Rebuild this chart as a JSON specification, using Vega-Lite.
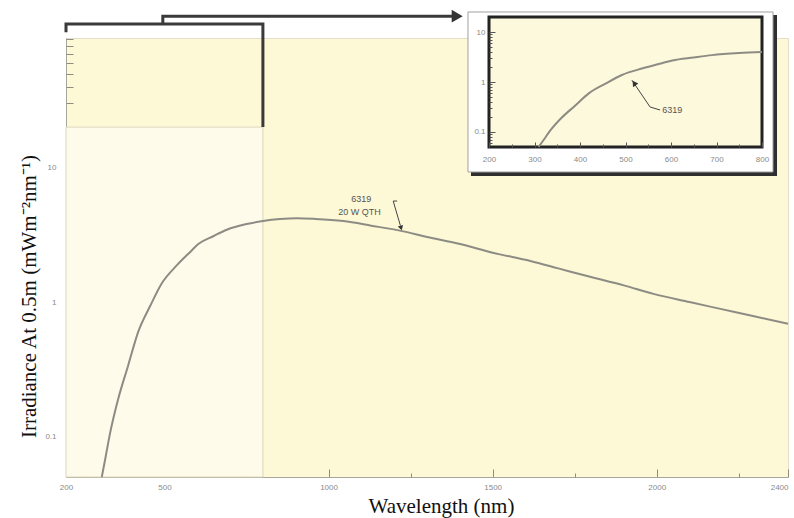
{
  "$schema": "https://vega.github.io/schema/vega-lite/v6.json",
  "width": 722,
  "height": 439,
  "autosize": "none",
  "padding": {"left": 66, "top": 38, "right": 6, "bottom": 41},
  "background": "#ffffff",
  "view": {"fill": "#fdf8d5", "stroke": "#e2dec9", "strokeWidth": 1},
  "config": {"axis": {"grid": false, "labelFont": "Liberation Sans", "titleFont": "Liberation Serif"}},
  "datasets": {
    "lamp": [
      {"nm": 309, "irr": 0.05},
      {"nm": 320, "irr": 0.069},
      {"nm": 334, "irr": 0.105},
      {"nm": 359, "irr": 0.19},
      {"nm": 389, "irr": 0.335},
      {"nm": 420, "irr": 0.6},
      {"nm": 456, "irr": 0.93},
      {"nm": 492, "irr": 1.38},
      {"nm": 538, "irr": 1.88},
      {"nm": 580, "irr": 2.38},
      {"nm": 603, "irr": 2.7},
      {"nm": 650, "irr": 3.1},
      {"nm": 690, "irr": 3.45},
      {"nm": 750, "irr": 3.8},
      {"nm": 800, "irr": 4.0},
      {"nm": 852, "irr": 4.14},
      {"nm": 904, "irr": 4.2},
      {"nm": 960, "irr": 4.15},
      {"nm": 1045, "irr": 4.0},
      {"nm": 1130, "irr": 3.7},
      {"nm": 1224, "irr": 3.37},
      {"nm": 1300, "irr": 3.05},
      {"nm": 1401, "irr": 2.7},
      {"nm": 1500, "irr": 2.33},
      {"nm": 1615, "irr": 2.02},
      {"nm": 1700, "irr": 1.78},
      {"nm": 1788, "irr": 1.56},
      {"nm": 1900, "irr": 1.33},
      {"nm": 1990, "irr": 1.15},
      {"nm": 2100, "irr": 1.0},
      {"nm": 2194, "irr": 0.89},
      {"nm": 2300, "irr": 0.78},
      {"nm": 2400, "irr": 0.69}
    ]
  },
  "layer": [
    {
      "resolve": {"axis": {"x": "independent", "y": "independent"}},
      "layer": [
        {
          "data": {"values": [{"x0": 200, "x1": 800, "y0": 0.05, "y1": 20}]},
          "mark": {"type": "rect", "fill": "#fefbea", "stroke": "#dcd6bd", "strokeWidth": 1},
          "encoding": {
            "x": {
              "field": "x0", "type": "quantitative",
              "scale": {"domain": [200, 2400], "nice": false, "zero": false},
              "axis": {
                "orient": "bottom",
                "values": [200, 500, 1000, 1500, 2000, 2400],
                "format": "d",
                "tickSize": -8,
                "labelPadding": 14,
                "labelFlush": false,
                "labelOverlap": false,
                "labelAlign": {"condition": {"test": "datum.value == 2400", "value": "right"}, "value": "center"},
                "labelFontSize": 8,
                "labelColor": "#8a8a8a",
                "domainColor": "#a8a69a",
                "tickColor": "#8f8d82",
                "title": "Wavelength (nm)",
                "titleFontSize": 21,
                "titleFontWeight": "normal",
                "titleColor": "#111111",
                "titleX": 375,
                "titleY": 35,
                "titleAlign": "center",
                "titleBaseline": "alphabetic"
              }
            },
            "x2": {"field": "x1"},
            "y": {
              "field": "y0", "type": "quantitative",
              "scale": {"type": "log", "domain": [0.05, 92], "nice": false},
              "axis": {
                "orient": "left",
                "values": [0.1, 1, 10],
                "labelExpr": "datum.value < 0.5 ? '0.1' : datum.value < 5 ? '1' : '10'",
                "tickSize": -13,
                "labelPadding": 23,
                "labelFlush": false,
                "labelOverlap": false,
                "labelFontSize": 8,
                "labelColor": "#8a8a8a",
                "domainColor": "#a8a69a",
                "tickColor": "#8f8d82",
                "title": "Irradiance At 0.5m (mWm⁻²nm⁻¹)",
                "titleFontSize": 21,
                "titleFontWeight": "normal",
                "titleColor": "#111111",
                "titleAngle": 270,
                "titleX": -37,
                "titleY": 258,
                "titleAlign": "center",
                "titleBaseline": "middle"
              }
            },
            "y2": {"field": "y1"}
          }
        },
        {
          "data": {"name": "lamp"},
          "mark": {"type": "line", "color": "#8d8c84", "strokeWidth": 2, "interpolate": "monotone"},
          "encoding": {
            "x": {
              "field": "nm", "type": "quantitative",
              "scale": {"domain": [200, 2400], "nice": false, "zero": false},
              "axis": {
                "orient": "bottom",
                "values": [250, 750, 1250, 1750, 2250],
                "tickSize": -4,
                "labels": false,
                "domain": false,
                "tickColor": "#8f8d82",
                "title": null
              }
            },
            "y": {
              "field": "irr", "type": "quantitative",
              "scale": {"type": "log", "domain": [0.05, 92], "nice": false},
              "axis": {
                "orient": "left",
                "values": [0.06, 0.07, 0.08, 0.09, 0.2, 0.3, 0.4, 0.5, 0.6, 0.7, 0.8, 0.9, 2, 3, 4, 5, 6, 7, 8, 9, 20, 30, 40, 50, 60, 70, 80, 90],
                "tickSize": -7,
                "labels": false,
                "domain": false,
                "tickColor": "#8f8d82",
                "title": null
              }
            }
          }
        },
        {
          "data": {"values": [
            {"seg": "bracket", "ord": 1, "nm": 200, "v": 101.7},
            {"seg": "bracket", "ord": 2, "nm": 200, "v": 116.7},
            {"seg": "bracket", "ord": 3, "nm": 800, "v": 116.7},
            {"seg": "bracket", "ord": 4, "nm": 800, "v": 20},
            {"seg": "pointer", "ord": 1, "nm": 495, "v": 116.7},
            {"seg": "pointer", "ord": 2, "nm": 495, "v": 133.8},
            {"seg": "pointer", "ord": 3, "nm": 1385, "v": 133.8}
          ]},
          "mark": {"type": "line", "color": "#3a3a3a", "strokeWidth": 3, "strokeJoin": "miter"},
          "encoding": {
            "x": {"field": "nm", "type": "quantitative", "scale": {"domain": [200, 2400], "nice": false, "zero": false}, "axis": null},
            "y": {"field": "v", "type": "quantitative", "scale": {"type": "log", "domain": [0.05, 92], "nice": false}, "axis": null},
            "detail": {"field": "seg"},
            "order": {"field": "ord"}
          }
        },
        {
          "data": {"values": [{"nm": 1392, "v": 133.8}]},
          "mark": {"type": "point", "shape": "triangle-right", "filled": true, "color": "#333333", "size": 160, "opacity": 1},
          "encoding": {
            "x": {"field": "nm", "type": "quantitative", "scale": {"domain": [200, 2400], "nice": false, "zero": false}, "axis": null},
            "y": {"field": "v", "type": "quantitative", "scale": {"type": "log", "domain": [0.05, 92], "nice": false}, "axis": null}
          }
        },
        {
          "data": {"values": [
            {"ord": 1, "nm": 1209, "v": 5.64},
            {"ord": 2, "nm": 1197, "v": 5.64},
            {"ord": 3, "nm": 1219, "v": 3.7}
          ]},
          "mark": {"type": "line", "color": "#444444", "strokeWidth": 1},
          "encoding": {
            "x": {"field": "nm", "type": "quantitative", "scale": {"domain": [200, 2400], "nice": false, "zero": false}, "axis": null},
            "y": {"field": "v", "type": "quantitative", "scale": {"type": "log", "domain": [0.05, 92], "nice": false}, "axis": null},
            "order": {"field": "ord"}
          }
        },
        {
          "data": {"values": [{"nm": 1221, "v": 3.55}]},
          "mark": {"type": "point", "shape": "triangle-down", "filled": true, "color": "#333333", "size": 30, "angle": -17, "opacity": 1},
          "encoding": {
            "x": {"field": "nm", "type": "quantitative", "scale": {"domain": [200, 2400], "nice": false, "zero": false}, "axis": null},
            "y": {"field": "v", "type": "quantitative", "scale": {"type": "log", "domain": [0.05, 92], "nice": false}, "axis": null}
          }
        },
        {
          "data": {"values": [
            {"nm": 1100, "v": 5.83, "label": "6319"},
            {"nm": 1094, "v": 4.67, "label": "20 W QTH"}
          ]},
          "mark": {"type": "text", "font": "Liberation Sans", "fontSize": 9, "color": "#555555", "align": "center", "baseline": "middle"},
          "encoding": {
            "x": {"field": "nm", "type": "quantitative", "scale": {"domain": [200, 2400], "nice": false, "zero": false}, "axis": null},
            "y": {"field": "v", "type": "quantitative", "scale": {"type": "log", "domain": [0.05, 92], "nice": false}, "axis": null},
            "text": {"field": "label"}
          }
        }
      ]
    },
    {
      "resolve": {"axis": {"x": "independent", "y": "independent"}},
      "layer": [
        {
          "data": {"values": [{"x0": 160.4, "x1": 833, "y0": 0.0131, "y1": 21.9}]},
          "mark": {"type": "rect", "fill": "#2f2f2f"},
          "encoding": {
            "x": {"field": "x0", "type": "quantitative", "scale": {"domain": [200, 800], "range": [423, 696], "nice": false, "zero": false}, "axis": null},
            "x2": {"field": "x1"},
            "y": {"field": "y0", "type": "quantitative", "scale": {"type": "log", "domain": [0.05, 20], "range": [109, -21], "nice": false}, "axis": null},
            "y2": {"field": "y1"}
          }
        },
        {
          "data": {"values": [{"x0": 153.8, "x1": 824.2, "y0": 0.0158, "y1": 25.2}]},
          "mark": {"type": "rect", "fill": "#ffffff", "stroke": "#a0a0a0", "strokeWidth": 1},
          "encoding": {
            "x": {"field": "x0", "type": "quantitative", "scale": {"domain": [200, 800], "range": [423, 696], "nice": false, "zero": false}, "axis": null},
            "x2": {"field": "x1"},
            "y": {"field": "y0", "type": "quantitative", "scale": {"type": "log", "domain": [0.05, 20], "range": [109, -21], "nice": false}, "axis": null},
            "y2": {"field": "y1"}
          }
        },
        {
          "data": {"values": [{"x0": 200, "x1": 800, "y0": 0.05, "y1": 20}]},
          "mark": {"type": "rect", "fill": "#fdf9dc", "stroke": "#232323", "strokeWidth": 3},
          "encoding": {
            "x": {
              "field": "x0", "type": "quantitative",
              "scale": {"domain": [200, 800], "range": [423, 696], "nice": false, "zero": false},
              "axis": {
                "orient": "bottom",
                "offset": -330,
                "zindex": 1,
                "domain": false,
                "values": [200, 300, 400, 500, 600, 700, 800],
                "format": "d",
                "tickSize": -5,
                "labelPadding": 13,
                "labelFlush": false,
                "labelOverlap": false,
                "labelFontSize": 8,
                "labelColor": "#8a8a8a",
                "tickColor": "#555555",
                "title": null
              }
            },
            "x2": {"field": "x1"},
            "y": {
              "field": "y0", "type": "quantitative",
              "scale": {"type": "log", "domain": [0.05, 20], "range": [109, -21], "nice": false},
              "axis": {
                "orient": "left",
                "offset": -423,
                "zindex": 1,
                "domain": false,
                "values": [0.1, 1, 10],
                "labelExpr": "datum.value < 0.5 ? '0.1' : datum.value < 5 ? '1' : '10'",
                "tickSize": -6,
                "labelPadding": 10,
                "labelFlush": false,
                "labelOverlap": false,
                "labelFontSize": 8,
                "labelColor": "#8a8a8a",
                "tickColor": "#555555",
                "title": null
              }
            },
            "y2": {"field": "y1"}
          }
        },
        {
          "data": {"name": "lamp"},
          "transform": [{"filter": "datum.nm <= 800"}],
          "mark": {"type": "line", "color": "#8d8c84", "strokeWidth": 2, "interpolate": "monotone"},
          "encoding": {
            "x": {
              "field": "nm", "type": "quantitative",
              "scale": {"domain": [200, 800], "range": [423, 696], "nice": false, "zero": false},
              "axis": {
                "orient": "bottom",
                "offset": -330,
                "zindex": 1,
                "domain": false,
                "labels": false,
                "values": [250, 350, 450, 550, 650, 750],
                "tickSize": -3,
                "tickColor": "#555555",
                "title": null
              }
            },
            "y": {
              "field": "irr", "type": "quantitative",
              "scale": {"type": "log", "domain": [0.05, 20], "range": [109, -21], "nice": false},
              "axis": {
                "orient": "left",
                "offset": -423,
                "zindex": 1,
                "domain": false,
                "labels": false,
                "values": [0.06, 0.07, 0.08, 0.09, 0.2, 0.3, 0.4, 0.5, 0.6, 0.7, 0.8, 0.9, 2, 3, 4, 5, 6, 7, 8, 9],
                "tickSize": -3,
                "tickColor": "#555555",
                "title": null
              }
            }
          }
        },
        {
          "data": {"values": [
            {"ord": 1, "nm": 514, "v": 1.09},
            {"ord": 2, "nm": 554, "v": 0.316},
            {"ord": 3, "nm": 576, "v": 0.275}
          ]},
          "mark": {"type": "line", "color": "#444444", "strokeWidth": 1},
          "encoding": {
            "x": {"field": "nm", "type": "quantitative", "scale": {"domain": [200, 800], "range": [423, 696], "nice": false, "zero": false}, "axis": null},
            "y": {"field": "v", "type": "quantitative", "scale": {"type": "log", "domain": [0.05, 20], "range": [109, -21], "nice": false}, "axis": null},
            "order": {"field": "ord"}
          }
        },
        {
          "data": {"values": [{"nm": 519, "v": 0.95}]},
          "mark": {"type": "point", "shape": "triangle-up", "filled": true, "color": "#333333", "size": 40, "angle": -34, "opacity": 1},
          "encoding": {
            "x": {"field": "nm", "type": "quantitative", "scale": {"domain": [200, 800], "range": [423, 696], "nice": false, "zero": false}, "axis": null},
            "y": {"field": "v", "type": "quantitative", "scale": {"type": "log", "domain": [0.05, 20], "range": [109, -21], "nice": false}, "axis": null}
          }
        },
        {
          "data": {"values": [{"nm": 581, "v": 0.275, "label": "6319"}]},
          "mark": {"type": "text", "font": "Liberation Sans", "fontSize": 9, "color": "#555555", "align": "left", "baseline": "middle"},
          "encoding": {
            "x": {"field": "nm", "type": "quantitative", "scale": {"domain": [200, 800], "range": [423, 696], "nice": false, "zero": false}, "axis": null},
            "y": {"field": "v", "type": "quantitative", "scale": {"type": "log", "domain": [0.05, 20], "range": [109, -21], "nice": false}, "axis": null},
            "text": {"field": "label"}
          }
        }
      ]
    }
  ],
  "resolve": {"scale": {"x": "independent", "y": "independent"}}
}
